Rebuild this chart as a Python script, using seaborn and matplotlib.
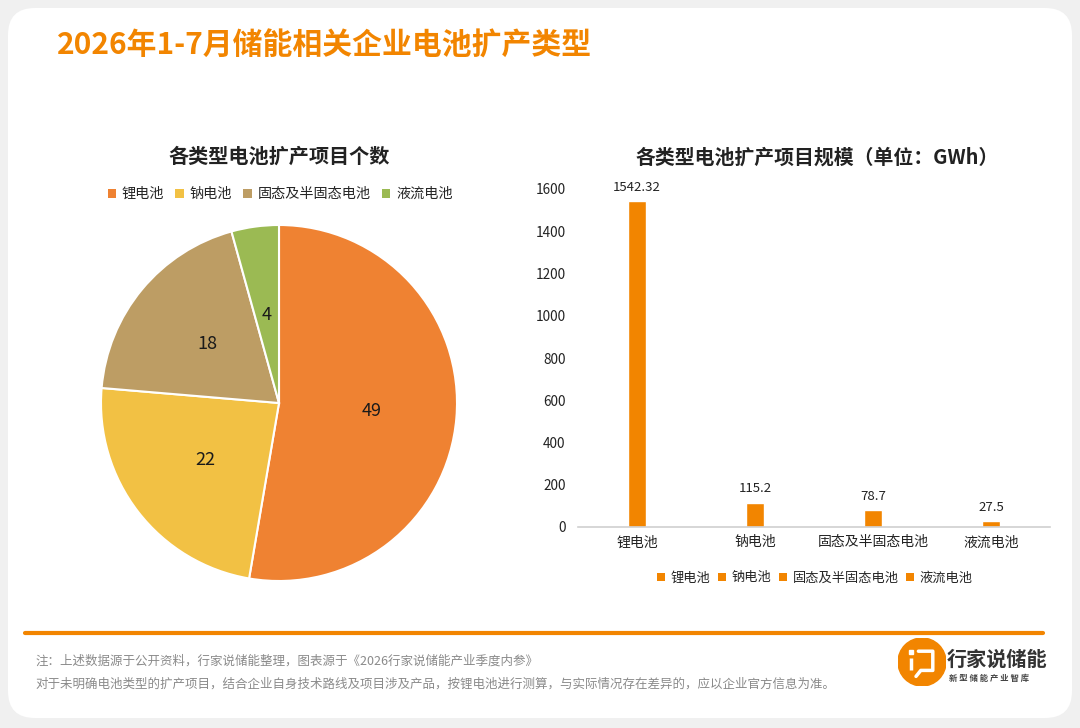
import matplotlib
matplotlib.use("Agg")
import matplotlib.pyplot as plt
from matplotlib.patches import FancyBboxPatch, Patch, Circle
from matplotlib.lines import Line2D
import numpy as np
import pandas as pd
import seaborn as sns

categories = ['锂电池', '钠电池', '固态及半固态电池', '液流电池']
project_counts = [49, 22, 18, 4]
capacity_gwh = [1542.32, 115.2, 78.7, 27.5]
capacity_labels = ['1542.32', '115.2', '78.7', '27.5']
y_ticks = [0, 200, 400, 600, 800, 1000, 1200, 1400, 1600]

pie_colors = ['#EF8232', '#F2C144', '#BD9D64', '#9BBA53']
bar_color = '#F28500'
orange = '#F28500'

sns.set_theme(style="white")
plt.rcParams['font.family'] = ['Noto Sans CJK SC', 'DejaVu Sans']

W, H = 1080, 728
fig = plt.figure(figsize=(W / 100, H / 100), dpi=100)
fig.patch.set_facecolor('#F0F0F0')

def fx(px):
    return px / W

def fy(py):
    return 1 - py / H

# white card behind everything
card = FancyBboxPatch((fx(8), fy(718)), fx(1064), (710) / H,
                      boxstyle="round,pad=0,rounding_size=0.025",
                      transform=fig.transFigure, facecolor='white',
                      edgecolor='none', mutation_aspect=W / H, zorder=-10)
fig.patches.append(card)

fig.text(fx(57), fy(46), '2026年1-7月储能相关企业电池扩产类型', color=orange,
         fontsize=21.5, fontweight='bold', va='center', ha='left')

# pie chart
cx, cy, r = 279, 403, 178
ax1 = fig.add_axes([fx(cx - r), fy(cy + r), 2 * r / W, 2 * r / H])
wedges, texts = ax1.pie(project_counts, colors=pie_colors, startangle=90,
                        counterclock=False, radius=1,
                        wedgeprops=dict(edgecolor='white', linewidth=1.5))
for w, v in zip(wedges, project_counts):
    ang = np.deg2rad((w.theta1 + w.theta2) / 2)
    d = 0.52 if v > 10 else 0.5
    ax1.text(d * np.cos(ang), d * np.sin(ang), str(v), ha='center', va='center',
             fontsize=13, color='#1a1a1a')
ax1.set_xlim(-1.0, 1.0)
ax1.set_ylim(-1.0, 1.0)
ax1.set_aspect('equal')
ax1.axis('off')

fig.text(fx(279), fy(156), '各类型电池扩产项目个数', ha='center', va='center',
         fontsize=14.5, fontweight='bold', color='#222222')
pie_handles = [Patch(facecolor=c, edgecolor='none') for c in pie_colors]
fig.legend(pie_handles, categories, loc='center', bbox_to_anchor=(fx(280), fy(194)),
           ncol=4, frameon=False, fontsize=10.2, handlelength=0.6, handleheight=0.6,
           handletextpad=0.4, columnspacing=0.8)

# bar chart
ax2 = fig.add_axes([fx(578), fy(527), fx(1050 - 578), (527 - 189) / H])
df = pd.DataFrame({'type': categories, 'gwh': capacity_gwh})
sns.barplot(data=df, x='type', y='gwh', color=bar_color, width=0.16, ax=ax2,
            saturation=1)
for i, (v, lab) in enumerate(zip(capacity_gwh, capacity_labels)):
    ax2.text(i, v + 35, lab, ha='center', va='bottom', fontsize=9.5, color='#222222')
ax2.set_ylim(0, 1600)
ax2.set_yticks(y_ticks)
ax2.set_xlim(-0.5, 3.5)
ax2.set_xlabel('')
ax2.set_ylabel('')
ax2.set_facecolor('none')
for s in ['top', 'right', 'left']:
    ax2.spines[s].set_visible(False)
ax2.spines['bottom'].set_color('#D0D0D0')
ax2.spines['bottom'].set_linewidth(1.2)
ax2.tick_params(axis='y', length=0, labelsize=9.8, labelcolor='#222222', pad=9)
ax2.tick_params(axis='x', length=0, labelsize=10, labelcolor='#222222', pad=6)
ax2.grid(False)

fig.text(fx(817), fy(157), '各类型电池扩产项目规模（单位：GWh）', ha='center',
         va='center', fontsize=14.3, fontweight='bold', color='#222222')
bar_handles = [Patch(facecolor=bar_color, edgecolor='none') for _ in categories]
fig.legend(bar_handles, categories, loc='center', bbox_to_anchor=(fx(815), fy(578)),
           ncol=4, frameon=False, fontsize=9.5, handlelength=0.6, handleheight=0.6,
           handletextpad=0.4, columnspacing=0.6)

# separator line
fig.lines.append(Line2D([fx(25), fx(1043)], [fy(633), fy(633)], transform=fig.transFigure,
                        color=orange, linewidth=3))

fig.text(fx(35), fy(661), '注：上述数据源于公开资料，行家说储能整理，图表源于《2026行家说储能产业季度内参》',
         fontsize=9, color='#8a8a8a', va='center', ha='left')
fig.text(fx(35), fy(684), '对于未明确电池类型的扩产项目，结合企业自身技术路线及项目涉及产品，按锂电池进行测算，与实际情况存在差异的，应以企业官方信息为准。',
         fontsize=9, color='#8a8a8a', va='center', ha='left')

# logo
lax = fig.add_axes([fx(898), fy(686), fx(48), 48 / H])
lax.set_xlim(-1, 1)
lax.set_ylim(-1, 1)
lax.set_aspect('equal')
lax.axis('off')
lax.add_patch(Circle((0, 0), 1, color=orange))
lax.plot([-0.45, -0.45], [-0.35, 0.15], color='white', lw=2.5, solid_capstyle='butt')
lax.plot([-0.45], [0.4], marker='s', color='white', markersize=3)
lax.plot([-0.15, 0.45, 0.45, -0.05, -0.25], [0.45, 0.45, -0.35, -0.35, -0.6],
         color='white', lw=2.5)
fig.text(fx(947), fy(659), '行家说储能', fontsize=14.5, fontweight='bold',
         color='#333333', va='center', ha='left')
fig.text(fx(949), fy(678), '新 型 储 能 产 业 智 库', fontsize=6, fontweight='bold',
         color='#444444', va='center', ha='left')

fig.savefig('out.png', dpi=100, facecolor=fig.get_facecolor())
